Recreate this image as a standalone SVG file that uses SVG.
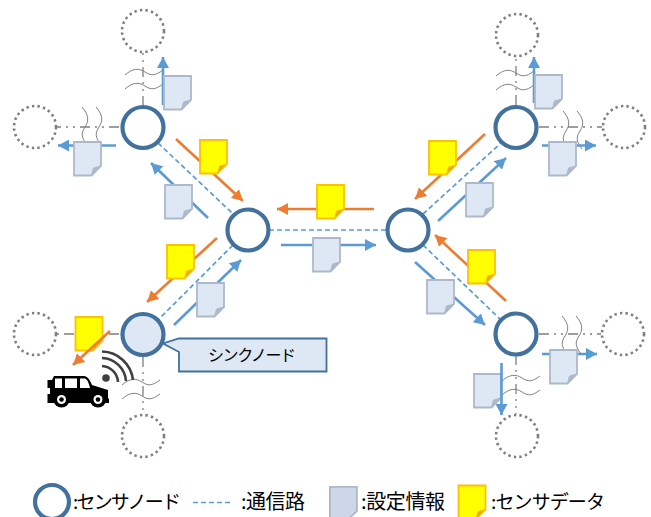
<svg xmlns="http://www.w3.org/2000/svg" width="651" height="517" viewBox="0 0 651 517">
<style>
.n{fill:#fff;stroke:#41719c;stroke-width:4.2}
.g{fill:#fff;stroke:#7f7f7f;stroke-width:2.6;stroke-dasharray:2.4 3.2}
.c{fill:none;stroke:#5b9bd5;stroke-width:1.7;stroke-dasharray:5 3}
.d{fill:none;stroke:#7f7f7f;stroke-width:1.3;stroke-dasharray:10 5 2 5 2 5}
.w{fill:none;stroke:#7f7f7f;stroke-width:1}
.b{stroke:#5b9bd5;stroke-width:2.6;fill:none;marker-end:url(#mb)}
.o{stroke:#ed7d31;stroke-width:2.6;fill:none;marker-end:url(#mo)}
.t{font-family:"Noto Sans CJK JP","Liberation Sans",sans-serif;fill:#000}
</style>
<defs>
<marker id="mb" markerUnits="userSpaceOnUse" markerWidth="12" markerHeight="12" refX="11" refY="6" orient="auto"><path d="M0,0L11,6L0,12Z" fill="#5b9bd5"/></marker>
<marker id="mo" markerUnits="userSpaceOnUse" markerWidth="12" markerHeight="12" refX="11" refY="6" orient="auto"><path d="M0,0L11,6L0,12Z" fill="#ed7d31"/></marker>
<g id="doc"><path d="M0,0H27V24L17.500,33.500H0Z" fill="#dee8f4" stroke="#adb9ca" stroke-width="1.800"/><path d="M17.500,33.500L19.500,26L27,24Z" fill="#adb9ca" stroke="#adb9ca" stroke-width="1"/></g>
<g id="sd"><path d="M0,0H27V24L17.500,33.500H0Z" fill="#ffff00" stroke="#ffc000" stroke-width="1.800"/><path d="M17.500,33.500L19.500,26L27,24Z" fill="#e2ac12" stroke="#ffc000" stroke-width="1"/></g>
<g id="wv"><path class="w" d="M0,0C8,-7 14,-7 20,-3C26,1 30,1 38,-5"/><path class="w" d="M0,14C8,7 14,7 20,11C26,15 30,15 38,9"/></g>
<g id="wh"><path class="w" d="M0,0C7,8 7,14 3,20C-1,26 -1,30 5,38"/><path class="w" d="M14,0C21,8 21,14 17,20C13,26 13,30 19,38"/></g>
</defs>

<g id="doc-br-bottom"><use href="#doc" x="474" y="374"/></g>
<g id="sd-sink"><use href="#sd" x="75.500" y="317"/></g>

<g id="connectors">
<path class="c" d="M158,143L232,213"/>
<path class="c" d="M233,245L158,320"/>
<path class="c" d="M269,230H387"/>
<path class="c" d="M423,214L501,143"/>
<path class="c" d="M423,245L501,320"/>
<path class="d" d="M143,106V53"/>
<path class="d" d="M119,127H57"/>
<path class="d" d="M119,334H104M74,334H57"/>
<path class="d" d="M143,357V414"/>
<path class="d" d="M516,105V57"/>
<path class="d" d="M539,127H602"/>
<path class="d" d="M539,334H601"/>
<path class="d" d="M516,355V414"/>
<use href="#wv" x="125" y="75"/>
<use href="#wh" x="82" y="107"/>
<use href="#wv" x="122" y="385"/>
<use href="#wv" x="496" y="76"/>
<use href="#wh" x="563" y="111"/>
<use href="#wh" x="562" y="316"/>
<use href="#wv" x="502" y="381"/>
<path class="b" d="M163,105V57"/>
<path class="b" d="M116,145.500H58"/>
<path class="b" d="M208,218L151,163"/>
<path class="b" d="M174,325L241,260"/>
<path class="b" d="M281,245H376"/>
<path class="b" d="M534,103V57"/>
<path class="b" d="M542,145.500H596"/>
<path class="b" d="M438,221L506,158"/>
<path class="b" d="M415,262L485,325"/>
<path class="b" d="M542,354H597"/>
<path class="b" d="M501.500,363V415"/>
<path class="o" d="M176,139L243,201"/>
<path class="o" d="M217,238L147,302"/>
<path class="o" d="M110,331L73,365"/>
<path class="o" d="M374,209H277"/>
<path class="o" d="M485,134L415,199"/>
<path class="o" d="M506,301L435,235"/>
</g>

<g id="doc-tl-top"><use href="#doc" x="164" y="76"/></g>
<g id="doc-tl-left"><use href="#doc" x="74" y="142"/></g>
<g id="doc-tl-c"><use href="#doc" x="165" y="185"/></g>
<g id="doc-bl-c"><use href="#doc" x="197" y="283"/></g>
<g id="doc-center"><use href="#doc" x="313" y="238"/></g>
<g id="doc-tr-top"><use href="#doc" x="535" y="75"/></g>
<g id="doc-tr-right"><use href="#doc" x="549" y="142"/></g>
<g id="doc-tr-c"><use href="#doc" x="466" y="183"/></g>
<g id="doc-br-c"><use href="#doc" x="427" y="280"/></g>
<g id="doc-br-right"><use href="#doc" x="550" y="350"/></g>
<g id="sd-tl"><use href="#sd" x="200" y="140"/></g>
<g id="sd-bl"><use href="#sd" x="167" y="245"/></g>
<g id="sd-center"><use href="#sd" x="317" y="185"/></g>
<g id="sd-tr"><use href="#sd" x="429" y="141"/></g>
<g id="sd-br"><use href="#sd" x="468" y="250"/></g>

<g id="ghost-1"><circle class="g" cx="143" cy="31" r="21"/></g>
<g id="ghost-2"><circle class="g" cx="35" cy="127" r="21"/></g>
<g id="ghost-3"><circle class="g" cx="35" cy="334" r="21"/></g>
<g id="ghost-4"><circle class="g" cx="143" cy="436" r="21"/></g>
<g id="ghost-5"><circle class="g" cx="517" cy="35" r="21"/></g>
<g id="ghost-6"><circle class="g" cx="624" cy="127" r="21"/></g>
<g id="ghost-7"><circle class="g" cx="623" cy="334" r="21"/></g>
<g id="ghost-8"><circle class="g" cx="517" cy="436" r="21"/></g>

<g id="node-tl"><circle class="n" cx="143" cy="127.500" r="20.500"/></g>
<g id="node-cl"><circle class="n" cx="248" cy="230" r="20.500"/></g>
<g id="node-cr"><circle class="n" cx="408" cy="230" r="20.500"/></g>
<g id="node-tr"><circle class="n" cx="516" cy="127.500" r="20.500"/></g>
<g id="node-br"><circle class="n" cx="516" cy="334" r="20.500"/></g>
<g id="node-sink"><circle class="n" cx="143" cy="334.500" r="20.500" style="fill:#dee8f4"/></g>

<g id="callout-sink">
<path d="M179,338.500H326.500V371.500H179V352L163,343.500Z" fill="#dee8f4" stroke="#41719c" stroke-width="1.800"/>
<text class="t" x="208" y="361" font-size="16" textLength="88" lengthAdjust="spacing">シンクノード</text>
</g>

<g id="car">
<path d="M47.500,380H52L54,376H83C87,376 89,378 92,385L108,390V398L109,399V403H47.500V394H50V388H47.500Z" fill="#000"/>
<path d="M55,378.500H62V388H55ZM65,378.500H77V388H65ZM80,378.500H85C88,380 89,384 90,388H80Z" fill="#fff"/>
<circle cx="61.500" cy="399.500" r="8" fill="#000"/><circle cx="61.500" cy="399.500" r="4.500" fill="#fff"/><circle cx="61.500" cy="399.500" r="2.300" fill="#000"/>
<circle cx="98" cy="399.500" r="8" fill="#000"/><circle cx="98" cy="399.500" r="4.500" fill="#fff"/><circle cx="98" cy="399.500" r="2.300" fill="#000"/>
</g>
<g id="wifi">
<circle cx="106" cy="378" r="3.800" fill="#404040"/>
<path d="M102,366A17,17 0 0 1 118,382M102,358A25,25 0 0 1 126,381M102,351.500A32,32 0 0 1 133,380" fill="none" stroke="#404040" stroke-width="2.600"/>
</g>

<g id="legend">
<circle class="n" cx="52" cy="502" r="17"/>
<text class="t" x="73" y="509" font-size="19" textLength="108" lengthAdjust="spacing">:センサノード</text>
<path class="c" d="M193,502.500H232"/>
<text class="t" x="241" y="509" font-size="20" textLength="64" lengthAdjust="spacing">:通信路</text>
<path d="M329.900,486.900H356.900V511L347.400,520H329.900Z" fill="#ced7e7" stroke="#adb9ca" stroke-width="1.800"/>
<text class="t" x="361" y="509" font-size="20" textLength="84" lengthAdjust="spacing">:設定情報</text>
<use href="#sd" x="458.500" y="485.500"/>
<text class="t" x="491" y="509" font-size="19" textLength="114" lengthAdjust="spacing">:センサデータ</text>
</g>
</svg>
